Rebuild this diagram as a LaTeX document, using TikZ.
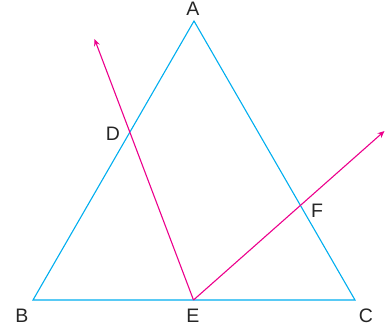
\documentclass[tikz,border=0pt]{standalone}
\usepackage{fontspec}
\setmainfont{Liberation Sans}
\usetikzlibrary{arrows.meta}
\definecolor{tricyan}{RGB}{0,174,239}
\definecolor{raymag}{RGB}{236,0,140}
\begin{document}
\begin{tikzpicture}[x=1pt,y=-1pt,
  tri/.style={draw=tricyan,line width=1.1pt},
  ray/.style={draw=raymag,line width=1.1pt,-{Stealth[length=7pt,width=6pt,inset=2.5pt]}},
  lbl/.style={font=\fontsize{19.5}{19.5}\selectfont,text=black!85,inner sep=0pt}]
\useasboundingbox (0,0) rectangle (385,333);
\coordinate (A) at (194,21);
\coordinate (B) at (33,300);
\coordinate (C) at (355,300);
\coordinate (E) at (193.5,300);
\coordinate (P) at (94.5,39);
\coordinate (Q) at (384.5,131);
\draw[tri] (A) -- (B) -- (C) -- cycle;
\draw[ray] (E) -- (P);
\draw[ray] (E) -- (Q);
\node[lbl] (lA) at (193,9) {A};
\node[lbl] (lB) at (22,316) {B};
\node[lbl] (lC) at (366,316) {C};
\node[lbl] (lE) at (193,316) {E};
\node[lbl] (lD) at (113,134) {D};
\node[lbl] (lF) at (317,211) {F};
\end{tikzpicture}
\end{document}
